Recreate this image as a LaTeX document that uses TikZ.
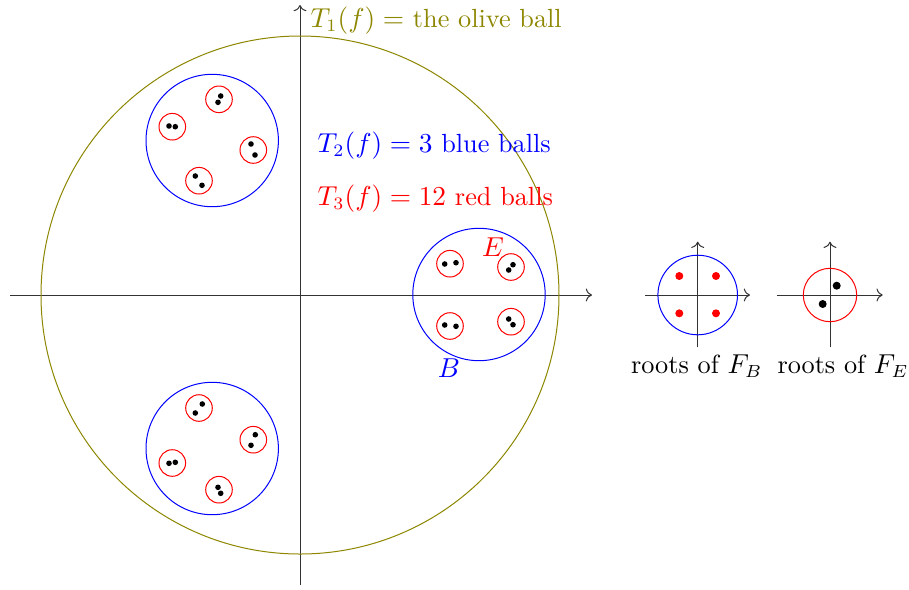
\documentclass[tikz,border=0pt]{standalone}
\usetikzlibrary{arrows.meta}
\begin{document}
\begin{tikzpicture}[x=0.4pt,y=-0.4pt,
  every node/.style={font=\fontsize{10.5}{12.6}\selectfont},
  axis/.style={draw=black!80,line width=0.4pt,->},
  olivec/.style={draw=olive,line width=0.4pt},
  bluec/.style={draw=blue,line width=0.4pt},
  redc/.style={draw=red,line width=0.4pt},
  rt/.style={fill=black},
  bigdot/.style={fill=black},
  reddot/.style={fill=red}]
\useasboundingbox (0,0) rectangle (909,589);
% main axes
\coordinate (xl) at (10,295); \coordinate (xr) at (592,295);
\coordinate (yb) at (300,585); \coordinate (yt) at (300,5);
\draw[axis] (xl) -- (xr);
\draw[axis] (yb) -- (yt);
% olive ball
\draw[olivec] (300,295) circle (259);
% blue balls
\draw[bluec] (479,294.5) circle (66.2);
\draw[bluec] (212.2,140.5) circle (66.2);
\draw[bluec] (212.2,448.5) circle (66.2);
% red balls
\foreach \cx/\cy in {450/263.7, 511/267, 450/326, 511/321.7,
  219/99.3, 172.3/126.7, 253.3/150, 199/180.7,
  199/408, 253.3/439.7, 172.3/463, 219/489.7}
  \draw[redc] (\cx,\cy) circle (13.3);
% dots
\foreach \px/\py in {444.7/264, 456/262.7, 513/264.7, 508.7/270,
  444.7/325, 456/326.3, 508.7/319, 513/324.7,
  220.7/96, 218/102.3, 169/126, 175.3/126.7, 251/144, 255/155, 195.3/176, 202/185.3,
  202.3/404, 195.3/413, 255.3/434.7, 251/445.3, 169/463.3, 175.3/462.3, 218/487.3, 220.7/493.3}
  \fill[rt] (\px,\py) circle (2.8);
% labels
\node[anchor=base west,text=olive,inner sep=0] (t1) at (310,27) {$T_1(f) =$ the olive ball};
\node[anchor=base west,text=blue,inner sep=0] (t2) at (317,152) {$T_2(f) = 3$ blue balls};
\node[anchor=base west,text=red,inner sep=0] (t3) at (317,205) {$T_3(f) = 12$ red balls};
\node[text=red,inner sep=0] (E) at (493,247) {$E$};
\node[text=blue,inner sep=0] (B) at (449,368) {$B$};
% small picture F_B
\coordinate (a1l) at (645,295); \coordinate (a1r) at (750,295);
\coordinate (a1b) at (697.7,347.3); \coordinate (a1t) at (697.7,241.7);
\draw[axis] (a1l) -- (a1r);
\draw[axis] (a1b) -- (a1t);
\draw[bluec] (697.7,295) circle (39.8);
\foreach \px/\py in {679.3/276, 716/276, 679.3/313.3, 716/313.3}
  \fill[reddot] (\px,\py) circle (4);
% small picture F_E
\coordinate (a2l) at (776.7,295); \coordinate (a2r) at (882.7,295);
\coordinate (a2b) at (830,347.3); \coordinate (a2t) at (830,241.7);
\draw[axis] (a2l) -- (a2r);
\draw[axis] (a2b) -- (a2t);
\draw[redc] (830,295) circle (26.7);
\foreach \px/\py in {836.7/285.7, 822.7/304}
  \fill[bigdot] (\px,\py) circle (4);
\node[anchor=base,inner sep=0] (lb) at (696.7,373) {roots of $F_B$};
\node[anchor=base west,inner sep=0] (le) at (777,373) {roots of $F_E$};
\end{tikzpicture}
\end{document}
